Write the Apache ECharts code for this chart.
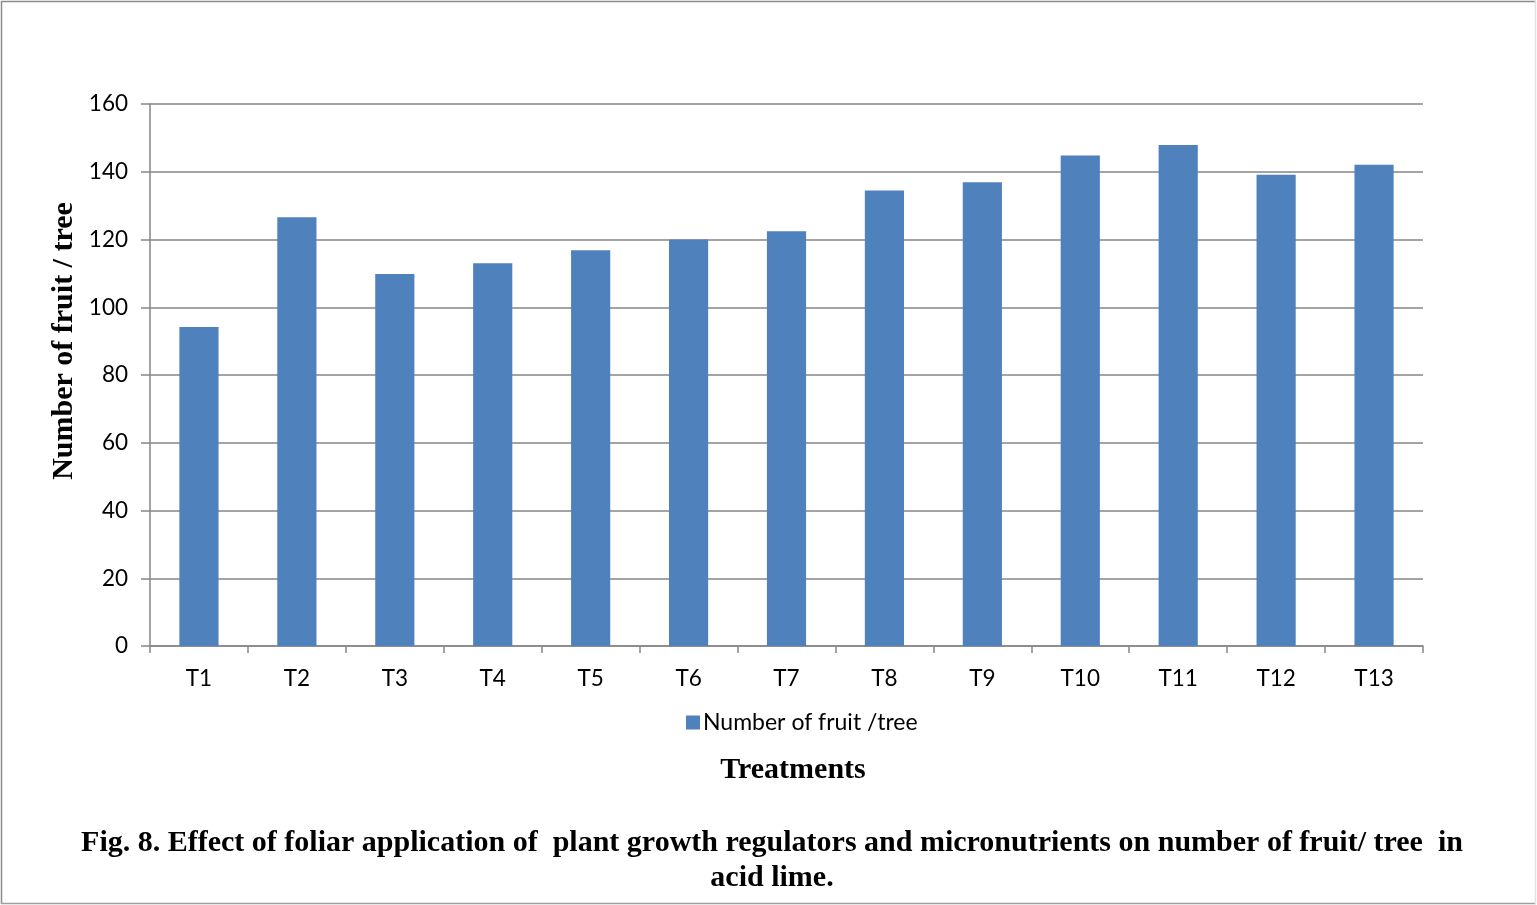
<!DOCTYPE html>
<html>
<head>
<meta charset="utf-8">
<script src="https://cdn.jsdelivr.net/npm/echarts@6/dist/echarts.min.js"></script>
<style>
  html, body { margin: 0; padding: 0; background: #fff; }
  #chart { width: 1537px; height: 905px; }
</style>
</head>
<body>
<div id="chart"></div>
<script>
// Treatments and number of fruit per tree
const treatments = ['T1', 'T2', 'T3', 'T4', 'T5', 'T6', 'T7', 'T8', 'T9', 'T10', 'T11', 'T12', 'T13'];
const fruitPerTree = [94.2, 126.6, 109.8, 113.0, 116.8, 120.0, 122.4, 134.5, 136.9, 144.8, 147.9, 139.1, 142.1];
const seriesName = 'Number of fruit /tree';
const yAxisTitle = 'Number of fruit / tree';
const xAxisTitle = 'Treatments';
const captionLines = [
  'Fig. 8. Effect of foliar application of  plant growth regulators and micronutrients on number of fruit/ tree  in',
  'acid lime.'
];

const axisGrey = '#868686';
const barBlue = '#4f81bd';
const tickFont = 'Lato, "Open Sans", sans-serif';
const serifFont = '"Liberation Serif", "DejaVu Serif", serif';
const titleFont = 'bold 30px ' + serifFont;

function frameLine(x1, y1, x2, y2, color) {
  return {
    type: 'line',
    silent: true,
    shape: { x1: x1, y1: y1, x2: x2, y2: y2 },
    style: { stroke: color, lineWidth: 1.5 }
  };
}

function titleText(text, x, y, rotation) {
  return {
    type: 'text',
    x: x, y: y,
    rotation: rotation || 0,
    style: { text: text, font: titleFont, fill: '#000', align: 'center', verticalAlign: 'middle' }
  };
}

const chart = echarts.init(document.getElementById('chart'));
chart.setOption({
  backgroundColor: '#fff',
  animation: false,
  grid: { left: 150, right: 114, top: 104, bottom: 259 },
  legend: {
    data: [seriesName],
    left: 681,
    top: 706,
    itemWidth: 14,
    itemHeight: 14,
    itemGap: 6,
    icon: 'rect',
    textStyle: { fontFamily: tickFont, fontSize: 23, color: '#000', padding: [0, 0, 0, -2] }
  },
  xAxis: {
    type: 'category',
    data: treatments,
    axisLine: { lineStyle: { color: axisGrey, width: 1.5 } },
    axisTick: { show: true, length: 7, lineStyle: { color: axisGrey, width: 1.5 } },
    axisLabel: { color: '#000', fontFamily: tickFont, fontSize: 22.5, margin: 21 }
  },
  yAxis: {
    type: 'value',
    min: 0,
    max: 160,
    interval: 20,
    axisLine: { show: true, lineStyle: { color: axisGrey, width: 1.5 } },
    axisTick: { show: true, length: 9, lineStyle: { color: axisGrey, width: 1.5 } },
    axisLabel: { color: '#000', fontFamily: tickFont, fontSize: 22.5, margin: 22 },
    splitLine: { lineStyle: { color: axisGrey, width: 1.5 } }
  },
  series: [{
    name: seriesName,
    type: 'bar',
    data: fruitPerTree,
    barWidth: '40%',
    itemStyle: { color: barBlue }
  }],
  graphic: [
    frameLine(1, 1.5, 1536, 1.5, '#8c8c8c'),
    frameLine(1.5, 1, 1.5, 904, '#8c8c8c'),
    frameLine(1, 903.5, 1536, 903.5, '#a0a0a0'),
    frameLine(1535.5, 1, 1535.5, 904, '#e2e2e2'),
    titleText(yAxisTitle, 64, 341, Math.PI / 2),
    titleText(xAxisTitle, 793, 770),
    titleText(captionLines[0], 772, 843),
    titleText(captionLines[1], 772, 878)
  ]
});
</script>
</body>
</html>
